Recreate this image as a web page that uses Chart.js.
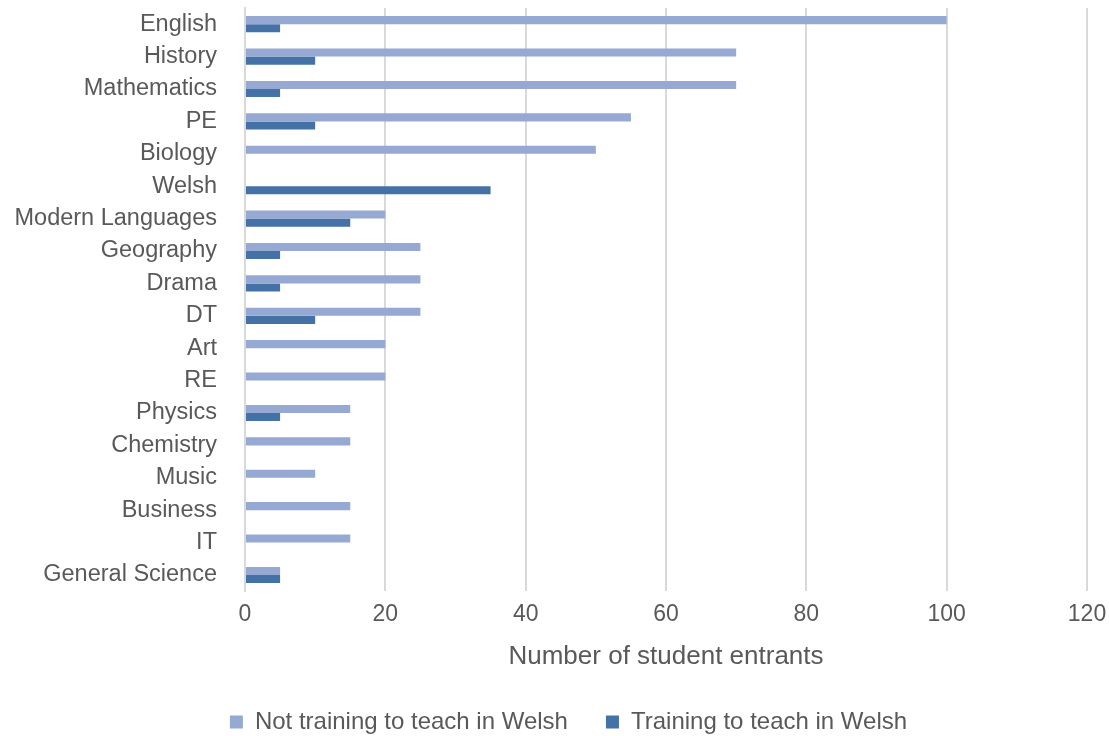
<!DOCTYPE html>
<html>
<head>
<meta charset="utf-8">
<script src="https://cdn.jsdelivr.net/npm/chart.js@4/dist/chart.umd.min.js"></script>
<style>
  body { margin: 0; background: #fff; }
  #wrap { width: 1109px; height: 736px; }
</style>
</head>
<body>
<div id="wrap"><canvas id="chart"></canvas></div>
<script>
const subjects = ["English", "History", "Mathematics", "PE", "Biology", "Welsh", "Modern Languages",
  "Geography", "Drama", "DT", "Art", "RE", "Physics", "Chemistry", "Music", "Business", "IT", "General Science"];
const notWelsh = [100, 70, 70, 55, 50, 0, 20, 25, 25, 25, 20, 20, 15, 15, 10, 15, 15, 5];
const inWelsh = [5, 10, 5, 10, 0, 35, 15, 5, 5, 10, 0, 0, 5, 0, 0, 0, 0, 5];
const xTicks = [0, 20, 40, 60, 80, 100, 120];

Chart.defaults.font.family = "'Liberation Sans', Arial, sans-serif";

// nudge the legend a little to the right, like the original
const legendShift = {
  id: "legendShift",
  afterLayout(chart) {
    chart.legend.left += 14;
    chart.legend.right += 14;
  },
};

new Chart(document.getElementById("chart").getContext("2d"), {
  type: "bar",
  data: {
    labels: subjects,
    datasets: [
      {
        label: "Not training to teach in Welsh",
        data: notWelsh,
        backgroundColor: "#95a9d3",
        categoryPercentage: 0.5,
        barPercentage: 1,
      },
      {
        label: "Training to teach in Welsh",
        data: inWelsh,
        backgroundColor: "#4472a6",
        categoryPercentage: 0.5,
        barPercentage: 1,
      },
    ],
  },
  options: {
    indexAxis: "y",
    responsive: true,
    maintainAspectRatio: false,
    animation: false,
    layout: { padding: { top: 8, right: 0, left: 0, bottom: -8 } },
    plugins: {
      legend: {
        position: "bottom",
        labels: {
          color: "#595959",
          font: { size: 24 },
          boxWidth: 13,
          boxHeight: 13,
          padding: 38,
        },
      },
      tooltip: { enabled: false },
    },
    scales: {
      x: {
        min: 0,
        max: 120,
        afterBuildTicks: (axis) => { axis.ticks = xTicks.map((v) => ({ value: v })); },
        afterFit: (s) => { s.paddingRight = 22; },
        grid: { color: "#d9d9d9", lineWidth: 2, drawTicks: false },
        border: { display: false },
        ticks: { color: "#595959", font: { size: 23 }, padding: 10 },
        title: {
          display: true,
          text: "Number of student entrants",
          color: "#595959",
          font: { size: 26 },
          padding: { top: 2, bottom: 0 },
        },
      },
      y: {
        grid: { display: false, drawTicks: false },
        border: { display: true, color: "#d9d9d9", width: 2 },
        ticks: { color: "#595959", font: { size: 23.5 }, padding: 28, autoSkip: false },
        afterFit: (s) => { s.paddingTop = 0; s.paddingBottom = 0; s.width = 245; },
      },
    },
  },
  plugins: [legendShift],
});
</script>
</body>
</html>
